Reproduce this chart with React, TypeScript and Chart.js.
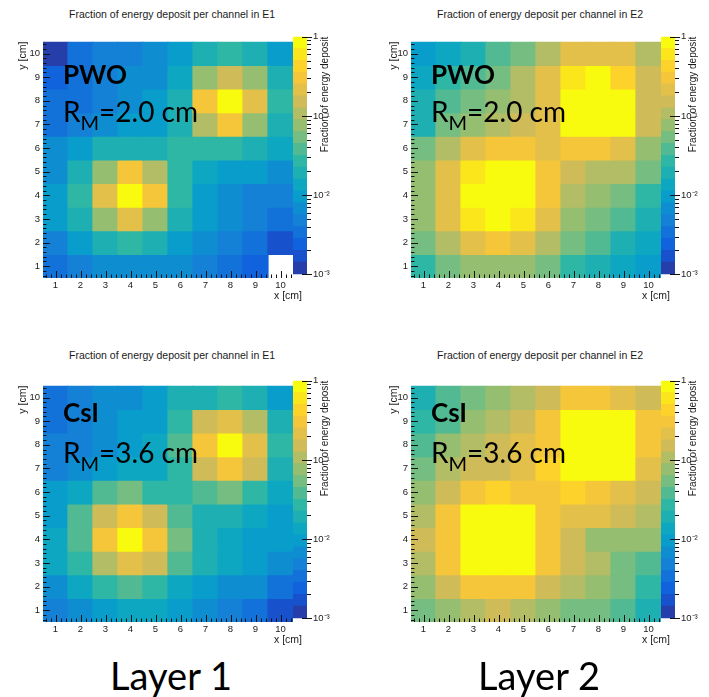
import React, { useEffect, useRef } from 'react';
import { Chart, registerables } from 'chart.js';

Chart.register(...registerables);

// ---------- data ----------
const xCategories = ['1', '2', '3', '4', '5', '6', '7', '8', '9', '10'];
// rows of every grid are listed from y = 10 (top) down to y = 1 (bottom); columns are x = 1..10
const yRows = [10, 9, 8, 7, 6, 5, 4, 3, 2, 1];
const yTickValues = [1, 2, 3, 4, 5, 6, 7, 8, 9, 10];
const colorbarTickValues = [0.001, 0.01, 0.1, 1];
const colorbarTickLabels = ['10⁻³', '10⁻²', '10⁻¹', '1'];

// Fraction of energy deposit per channel, PWO, layer 1 (E1)
const pwoLayer1 = [
  [0.0012, 0.0034, 0.0047, 0.0047, 0.0067, 0.0094, 0.019, 0.027, 0.019, 0.0094],
  [0.0024, 0.0034, 0.0047, 0.0067, 0.0067, 0.013, 0.075, 0.15, 0.075, 0.019],
  [0.0034, 0.0034, 0.0047, 0.0067, 0.0094, 0.019, 0.3, 0.84, 0.21, 0.027],
  [0.0034, 0.0047, 0.0067, 0.0094, 0.0094, 0.019, 0.11, 0.3, 0.075, 0.019],
  [0.0067, 0.0094, 0.019, 0.019, 0.019, 0.027, 0.027, 0.027, 0.019, 0.013],
  [0.0067, 0.019, 0.075, 0.3, 0.11, 0.027, 0.013, 0.0094, 0.0094, 0.0067],
  [0.0094, 0.027, 0.21, 0.84, 0.3, 0.027, 0.0094, 0.0067, 0.0047, 0.0047],
  [0.0094, 0.019, 0.075, 0.21, 0.075, 0.019, 0.0094, 0.0067, 0.0047, 0.0034],
  [0.0047, 0.0094, 0.019, 0.027, 0.019, 0.0094, 0.0067, 0.0047, 0.0034, 0.0017],
  [0.0034, 0.0047, 0.0067, 0.0067, 0.0067, 0.0067, 0.0047, 0.0034, 0.0024, null],
];

// PWO, layer 2 (E2)
const pwoLayer2 = [
  [0.0094, 0.013, 0.019, 0.038, 0.053, 0.11, 0.21, 0.21, 0.21, 0.11],
  [0.013, 0.027, 0.038, 0.053, 0.11, 0.21, 0.6, 0.84, 0.42, 0.15],
  [0.019, 0.038, 0.053, 0.075, 0.11, 0.21, 0.84, 0.84, 0.84, 0.15],
  [0.019, 0.053, 0.075, 0.11, 0.15, 0.21, 0.84, 0.84, 0.84, 0.15],
  [0.053, 0.11, 0.21, 0.3, 0.3, 0.21, 0.3, 0.3, 0.21, 0.075],
  [0.075, 0.21, 0.6, 0.84, 0.84, 0.3, 0.15, 0.11, 0.11, 0.053],
  [0.075, 0.21, 0.84, 0.84, 0.84, 0.3, 0.11, 0.075, 0.053, 0.027],
  [0.075, 0.21, 0.6, 0.84, 0.6, 0.21, 0.075, 0.053, 0.038, 0.019],
  [0.053, 0.11, 0.21, 0.3, 0.21, 0.11, 0.053, 0.038, 0.019, 0.013],
  [0.027, 0.053, 0.075, 0.075, 0.075, 0.053, 0.027, 0.019, 0.013, 0.0094],
];

// CsI, layer 1 (E1)
const csiLayer1 = [
  [0.0034, 0.0047, 0.0067, 0.0067, 0.0094, 0.019, 0.019, 0.027, 0.019, 0.0094],
  [0.0034, 0.0047, 0.0067, 0.0094, 0.0094, 0.027, 0.15, 0.21, 0.11, 0.019],
  [0.0047, 0.0047, 0.0067, 0.0094, 0.013, 0.038, 0.3, 0.84, 0.21, 0.027],
  [0.0047, 0.0067, 0.0094, 0.013, 0.013, 0.027, 0.15, 0.3, 0.15, 0.019],
  [0.0094, 0.013, 0.038, 0.053, 0.027, 0.027, 0.038, 0.053, 0.027, 0.013],
  [0.0094, 0.038, 0.15, 0.3, 0.15, 0.038, 0.019, 0.019, 0.013, 0.0094],
  [0.013, 0.038, 0.3, 0.84, 0.3, 0.053, 0.019, 0.013, 0.0094, 0.0094],
  [0.013, 0.027, 0.11, 0.21, 0.15, 0.038, 0.019, 0.013, 0.0094, 0.0067],
  [0.0067, 0.013, 0.027, 0.038, 0.027, 0.013, 0.0094, 0.0067, 0.0067, 0.0034],
  [0.0047, 0.0067, 0.0094, 0.013, 0.013, 0.0094, 0.0067, 0.0047, 0.0034, 0.0017],
];

// CsI, layer 2 (E2)
const csiLayer2 = [
  [0.019, 0.038, 0.053, 0.075, 0.11, 0.15, 0.3, 0.3, 0.21, 0.15],
  [0.027, 0.038, 0.075, 0.11, 0.15, 0.3, 0.84, 0.84, 0.84, 0.3],
  [0.038, 0.075, 0.11, 0.15, 0.21, 0.3, 0.84, 0.84, 0.84, 0.3],
  [0.053, 0.11, 0.15, 0.15, 0.21, 0.42, 0.84, 0.84, 0.84, 0.21],
  [0.075, 0.15, 0.3, 0.42, 0.3, 0.3, 0.42, 0.3, 0.21, 0.15],
  [0.11, 0.3, 0.84, 0.84, 0.84, 0.3, 0.21, 0.21, 0.15, 0.11],
  [0.15, 0.3, 0.84, 0.84, 0.84, 0.3, 0.15, 0.075, 0.075, 0.075],
  [0.11, 0.3, 0.84, 0.84, 0.84, 0.3, 0.15, 0.11, 0.053, 0.038],
  [0.075, 0.15, 0.3, 0.3, 0.3, 0.15, 0.11, 0.075, 0.053, 0.027],
  [0.053, 0.075, 0.11, 0.15, 0.11, 0.075, 0.053, 0.053, 0.038, 0.019],
];

// ROOT "kBird" palette
const birdStops = [0.0, 0.125, 0.25, 0.375, 0.5, 0.625, 0.75, 0.875, 1.0];
const birdRed = [0.2082, 0.0592, 0.078, 0.0232, 0.1802, 0.5301, 0.8186, 0.9956, 0.9764];
const birdGreen = [0.1664, 0.3599, 0.5041, 0.6419, 0.7178, 0.7492, 0.7328, 0.7862, 0.9832];
const birdBlue = [0.5293, 0.8684, 0.8385, 0.7914, 0.6425, 0.4662, 0.3499, 0.1968, 0.0539];

const N_LEVELS = 20;
const LOG_MIN = -3;
const LOG_MAX = 0;

function bird(t: number): string {
  let k = 0;
  while (k < birdStops.length - 2 && t > birdStops[k + 1]) k++;
  const f = Math.min(1, Math.max(0, (t - birdStops[k]) / (birdStops[k + 1] - birdStops[k])));
  const c = (arr: number[]) => Math.round(255 * (arr[k] + f * (arr[k + 1] - arr[k])));
  return `rgb(${c(birdRed)},${c(birdGreen)},${c(birdBlue)})`;
}
function levelColor(i: number): string {
  return bird((i + 0.99) / N_LEVELS);
}
function valueColor(v: number | null): string {
  if (v == null) return 'rgba(0,0,0,0)';
  const l = Math.floor(((Math.log10(v) - LOG_MIN) / (LOG_MAX - LOG_MIN)) * N_LEVELS);
  return levelColor(Math.min(N_LEVELS - 1, Math.max(0, l)));
}
const levelIndex = Array.from({ length: N_LEVELS }, (_, i) => i);
const levelBounds = levelIndex.map((i) => [
  Math.pow(10, LOG_MIN + ((LOG_MAX - LOG_MIN) * i) / N_LEVELS),
  Math.pow(10, LOG_MIN + ((LOG_MAX - LOG_MIN) * (i + 1)) / N_LEVELS),
]);

// ---------- layout / style ----------
const SANS = '"Liberation Sans", Arial, Helvetica, sans-serif';
const CAL = 'Lato, "Open Sans", sans-serif';
const INK = '#1a1a1a';
const AXIS_W = 43;
const PLOT_W = 250;
const PLOT_H = 245;
const XAXIS_H = 24;
const RIGHT_PAD = 16;
const CB_W = 14;
const CB_AXIS_W = 46;
const CB_PAD = 8;

function Heatmap(props: any) {
  const { grid, plotLeft, plotTop, material, rm, matBase, rmBase, yTitleX } = props;
  const ref = useRef<HTMLCanvasElement>(null);
  useEffect(() => {
    const canvasLeft = plotLeft - AXIS_W;
    const datasets = yRows.map((yv, r) => ({
      label: 'y=' + yv,
      data: grid[r].map((v: number | null) => (v == null ? null : [yv - 0.5, yv + 0.5])),
      backgroundColor: grid[r].map(valueColor),
      borderWidth: 0,
      inflateAmount: 0.6,
      grouped: false,
      barPercentage: 1,
      categoryPercentage: 1,
    }));
    const decor = {
      id: 'rootDecor',
      afterDatasetsDraw(chart: any) {
        const { ctx, chartArea: a, scales } = chart;
        const xs = scales.x;
        const ys = scales.y;
        ctx.save();
        ctx.strokeStyle = '#111';
        ctx.lineWidth = 1;
        ctx.beginPath();
        for (let k = 0; k < 50; k++) {
          const v = 0.6 + 0.2 * k;
          const major = Math.abs(v - Math.round(v)) < 1e-6;
          const len = major ? 7 : 3.5;
          const px = Math.round(xs.getPixelForValue(v - 1)) + 0.5;
          ctx.moveTo(px, a.bottom);
          ctx.lineTo(px, a.bottom - len);
          const py = Math.round(ys.getPixelForValue(v)) + 0.5;
          ctx.moveTo(a.left, py);
          ctx.lineTo(a.left + len, py);
        }
        ctx.stroke();
        ctx.restore();
      },
      afterDraw(chart: any) {
        const { ctx, chartArea: a } = chart;
        ctx.save();
        ctx.fillStyle = INK;
        ctx.textAlign = 'right';
        ctx.textBaseline = 'middle';
        ctx.font = `10.5px ${SANS}`;
        ctx.fillText('x [cm]', a.right + 9, a.bottom + 18);

        ctx.fillStyle = '#000';
        ctx.textAlign = 'left';
        ctx.textBaseline = 'alphabetic';
        const x0 = a.left + 20;
        ctx.font = `bold 26px ${CAL}`;
        ctx.fillText(material, x0, a.top + matBase);
        let x = x0;
        ctx.font = `28px ${CAL}`;
        ctx.fillText('R', x, a.top + rmBase);
        x += ctx.measureText('R').width;
        ctx.font = `20px ${CAL}`;
        ctx.fillText('M', x, a.top + rmBase + 8);
        x += ctx.measureText('M').width;
        ctx.font = `28px ${CAL}`;
        ctx.fillText('=' + rm + ' cm', x, a.top + rmBase);
        ctx.restore();
      },
    };
    const chart = new Chart(ref.current as HTMLCanvasElement, {
      type: 'bar',
      data: { labels: xCategories, datasets: datasets as any },
      options: {
        responsive: false,
        animation: false,
        devicePixelRatio: 1,
        layout: { padding: { left: 0, right: RIGHT_PAD, top: 0, bottom: 0 } },
        plugins: { legend: { display: false }, tooltip: { enabled: false }, title: { display: false } },
        scales: {
          x: {
            type: 'category',
            offset: true,
            grid: { display: false, drawTicks: false },
            border: { display: false },
            ticks: { color: INK, font: { family: SANS, size: 9.5 }, padding: 2, maxRotation: 0, autoSkip: false },
            afterFit: (s: any) => {
              s.height = XAXIS_H;
            },
          },
          y: {
            type: 'linear',
            min: 0.5,
            max: 10.5,
            afterBuildTicks: (s: any) => {
              s.ticks = yTickValues.map((v) => ({ value: v }));
            },
            grid: { display: false, drawTicks: false },
            border: { display: false },
            ticks: { color: INK, font: { family: SANS, size: 9.5 }, padding: 3 },
            title: {
              display: true,
              text: 'y [cm]',
              align: 'end',
              color: INK,
              font: { family: SANS, size: 10.5 },
              padding: { top: yTitleX - canvasLeft - 6.3, bottom: 0 },
            },
            afterFit: (s: any) => {
              s.width = AXIS_W;
            },
          },
        },
      } as any,
      plugins: [decor],
    });
    return () => chart.destroy();
  }, []);
  return (
    <canvas
      ref={ref}
      width={AXIS_W + PLOT_W + RIGHT_PAD}
      height={PLOT_H + XAXIS_H}
      style={{ position: 'absolute', left: plotLeft - AXIS_W, top: plotTop, width: AXIS_W + PLOT_W + RIGHT_PAD, height: PLOT_H + XAXIS_H }}
    />
  );
}

function Colorbar(props: any) {
  const { plotLeft, plotTop } = props;
  const ref = useRef<HTMLCanvasElement>(null);
  useEffect(() => {
    const datasets = levelIndex.map((i) => ({
      label: 'level ' + i,
      data: [levelBounds[i]],
      backgroundColor: levelColor(i),
      borderWidth: 0,
      inflateAmount: 0.6,
      grouped: false,
      barPercentage: 1,
      categoryPercentage: 1,
    }));
    const decor = {
      id: 'cbDecor',
      afterDraw(chart: any) {
        const { ctx, chartArea: a, scales } = chart;
        const ys = scales.y;
        ctx.save();
        ctx.strokeStyle = '#111';
        ctx.lineWidth = 1;
        ctx.beginPath();
        for (let d = -3; d <= 0; d++) {
          for (let m = 1; m <= 9; m++) {
            const v = m * Math.pow(10, d);
            if (v > 1.0001) break;
            const py = Math.round(ys.getPixelForValue(v)) + 0.5;
            if (m === 1) {
              ctx.moveTo(a.right - 5, py);
              ctx.lineTo(a.right + 5, py);
            } else {
              ctx.moveTo(a.right, py);
              ctx.lineTo(a.right + 4, py);
            }
          }
        }
        ctx.stroke();
        ctx.fillStyle = INK;
        ctx.font = `10px ${SANS}`;
        ctx.translate(a.right + 18, a.top);
        ctx.rotate(-Math.PI / 2);
        ctx.textAlign = 'right';
        ctx.textBaseline = 'middle';
        ctx.fillText('Fraction of energy deposit', 0, 0);
        ctx.restore();
      },
    };
    const chart = new Chart(ref.current as HTMLCanvasElement, {
      type: 'bar',
      data: { labels: [''], datasets: datasets as any },
      options: {
        responsive: false,
        animation: false,
        devicePixelRatio: 1,
        layout: { padding: { left: 0, right: 0, top: CB_PAD, bottom: CB_PAD } },
        plugins: { legend: { display: false }, tooltip: { enabled: false } },
        scales: {
          x: { display: false, offset: true },
          y: {
            type: 'logarithmic',
            position: 'right',
            min: 0.001,
            max: 1,
            afterBuildTicks: (s: any) => {
              s.ticks = colorbarTickValues.map((v) => ({ value: v }));
            },
            grid: { display: false, drawTicks: false },
            border: { display: false },
            ticks: {
              color: INK,
              font: { family: SANS, size: 9.5 },
              padding: 6,
              autoSkip: false,
              callback: (_v: any, index: number) => colorbarTickLabels[index],
            },
            afterFit: (s: any) => {
              s.width = CB_AXIS_W;
            },
          },
        },
      } as any,
      plugins: [decor],
    });
    return () => chart.destroy();
  }, []);
  const left = plotLeft + PLOT_W;
  return (
    <canvas
      ref={ref}
      width={CB_W + CB_AXIS_W}
      height={PLOT_H + 2 * CB_PAD}
      style={{ position: 'absolute', left, top: plotTop - CB_PAD, width: CB_W + CB_AXIS_W, height: PLOT_H + 2 * CB_PAD }}
    />
  );
}

function Panel(props: any) {
  const { title, titleX, titleY } = props;
  return (
    <>
      <div
        style={{
          position: 'absolute',
          left: titleX - 160,
          top: titleY - 6,
          width: 320,
          textAlign: 'center',
          font: `10.5px ${SANS}`,
          lineHeight: '12px',
          color: INK,
          whiteSpace: 'nowrap',
        }}
      >
        {title}
      </div>
      <Heatmap {...props} />
      <Colorbar {...props} />
    </>
  );
}

function LayerLabel({ text, cx }: { text: string; cx: number }) {
  return (
    <div
      style={{
        position: 'absolute',
        left: cx - 120,
        width: 240,
        top: 656,
        textAlign: 'center',
        fontFamily: CAL,
        fontSize: 38,
        lineHeight: '38px',
        color: '#000',
        whiteSpace: 'nowrap',
      }}
    >
      {text}
    </div>
  );
}

export default function App() {
  return (
    <div style={{ position: 'absolute', left: 0, top: 0, width: 709, height: 697, background: '#fff', overflow: 'hidden' }}>
      <Panel
        grid={pwoLayer1}
        plotLeft={43}
        plotTop={33}
        yTitleX={23}
        title="Fraction of energy deposit per channel in E1"
        titleX={172}
        titleY={14}
        material="PWO"
        rm="2.0"
        matBase={42}
        rmBase={80}
      />
      <Panel
        grid={pwoLayer2}
        plotLeft={411}
        plotTop={33}
        yTitleX={394}
        title="Fraction of energy deposit per channel in E2"
        titleX={540}
        titleY={14}
        material="PWO"
        rm="2.0"
        matBase={42}
        rmBase={80}
      />
      <Panel
        grid={csiLayer1}
        plotLeft={43}
        plotTop={377}
        yTitleX={23}
        title="Fraction of energy deposit per channel in E1"
        titleX={172}
        titleY={355}
        material="CsI"
        rm="3.6"
        matBase={36}
        rmBase={77}
      />
      <Panel
        grid={csiLayer2}
        plotLeft={411}
        plotTop={377}
        yTitleX={394}
        title="Fraction of energy deposit per channel in E2"
        titleX={540}
        titleY={355}
        material="CsI"
        rm="3.6"
        matBase={36}
        rmBase={77}
      />
      <LayerLabel text="Layer 1" cx={171} />
      <LayerLabel text="Layer 2" cx={539} />
    </div>
  );
}
